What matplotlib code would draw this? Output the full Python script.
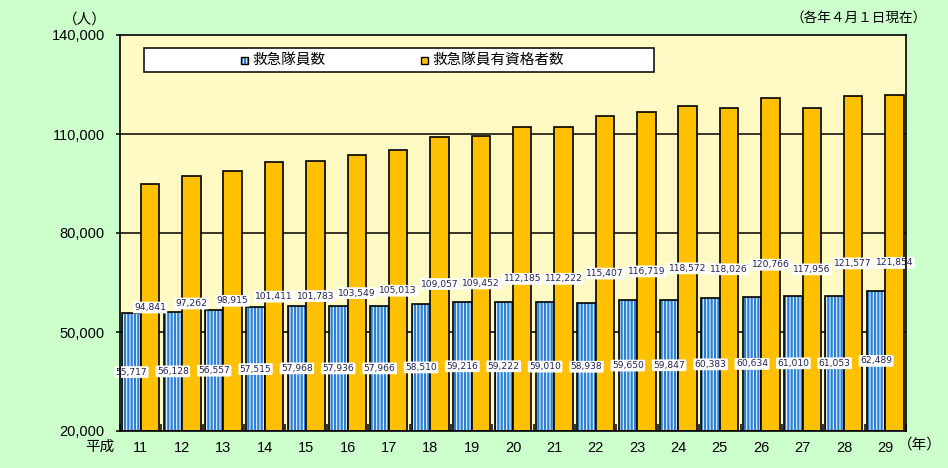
import matplotlib
matplotlib.use("Agg")
import matplotlib.pyplot as plt
from matplotlib.patches import Rectangle
import numpy as np

plt.rcParams['font.family'] = ['Noto Sans CJK JP', 'DejaVu Sans']
plt.rcParams['hatch.linewidth'] = 1.6

years = ['11', '12', '13', '14', '15', '16', '17', '18', '19', '20',
         '21', '22', '23', '24', '25', '26', '27', '28', '29']
members = [55717, 56128, 56557, 57515, 57968, 57936, 57966, 58510, 59216, 59222,
           59010, 58938, 59650, 59847, 60383, 60634, 61010, 61053, 62489]
qualified = [94841, 97262, 98915, 101411, 101783, 103549, 105013, 109057, 109452, 112185,
             112222, 115407, 116719, 118572, 118026, 120766, 117956, 121577, 121854]
series_names = ['救急隊員数', '救急隊員有資格者数']
yticks = [20000, 50000, 80000, 110000, 140000]

BLUE = '#2A80D4'
ORANGE = '#FFC000'
BG = '#CCFFCC'
PLOT_BG = '#FFF9C4'
LABEL_C = '#222255'
base = 20000

fig = plt.figure(figsize=(9.48, 4.68), dpi=100, facecolor=BG)
ax = fig.add_axes([120/948, 1-431/468, (906-120)/948, (431-35)/468])
ax.set_facecolor(PLOT_BG)

x = np.arange(len(years))
w = 0.447
for v in yticks[1:-1]:
    ax.axhline(v, color='black', lw=1.1, zorder=1)

m = np.array(members) - base
q = np.array(qualified) - base
# blue hatched bars
ax.bar(x - w/2, m, w, bottom=base, facecolor='#EAF4FF', edgecolor=BLUE, hatch='|||||', lw=0, zorder=2)
ax.bar(x - w/2, m, w, bottom=base, facecolor='none', edgecolor='black', lw=1.2, zorder=3)
ax.bar(x + w/2, q, w, bottom=base, facecolor=ORANGE, edgecolor='black', lw=1.2, zorder=3)

bb = dict(boxstyle='round,pad=0.15', facecolor='white', edgecolor='none')
for i in range(len(years)):
    ax.text(x[i] - w/2, base + m[i]/2, f'{members[i]:,}', ha='center', va='center',
            fontsize=6.6, color=LABEL_C, bbox=bb, zorder=5, family=['DejaVu Sans'])
    ax.text(x[i] + w/2, base + q[i]/2, f'{qualified[i]:,}', ha='center', va='center',
            fontsize=6.6, color=LABEL_C, bbox=bb, zorder=5, family=['DejaVu Sans'])

ax.set_xlim(-0.5, len(years) - 0.5)
ax.set_ylim(20000, 140000)
ax.set_yticks(yticks)
ax.set_yticklabels([f'{v:,}' for v in yticks], fontsize=10.5, family=['Liberation Sans'])
ax.tick_params(axis='y', direction='out', length=3, width=1.1, pad=8)
ax.set_xticks(x)
ax.set_xticklabels(years, fontsize=10.5, family=['Liberation Sans'])
ax.tick_params(axis='x', which='major', length=0, pad=7)
ax.set_xticks(np.arange(len(years) + 1) - 0.5, minor=True)
ax.tick_params(axis='x', which='minor', direction='in', length=5, width=1.1)
for s in ax.spines.values():
    s.set_linewidth(1.2)
    s.set_zorder(6)

fig.text(100/948, 1-447/468, '平成', fontsize=10.5, ha='center', va='center')
fig.text(920/948, 1-445/468, '（年）', fontsize=10.5, ha='center', va='center')
fig.text(85/948, 1-20/468, '（人）', fontsize=10.5, ha='center', va='center')
fig.text(927/948, 1-18/468, '（各年４月１日現在）', fontsize=9.8, ha='right', va='center')

# legend box
fig.patches.append(Rectangle((144/948, 1-72/468), (654-144)/948, 24/468, transform=fig.transFigure,
                             facecolor='white', edgecolor='black', lw=1.1, zorder=5))
sq = 7
fig.patches.append(Rectangle((241/948, 1-64/468), sq/948, sq/468, transform=fig.transFigure,
                             facecolor='#EAF4FF', edgecolor=BLUE, hatch='|||||', lw=0, zorder=6))
fig.patches.append(Rectangle((241/948, 1-64/468), sq/948, sq/468, transform=fig.transFigure,
                             facecolor='none', edgecolor='black', lw=1, zorder=7))
fig.patches.append(Rectangle((421/948, 1-64/468), sq/948, sq/468, transform=fig.transFigure,
                             facecolor=ORANGE, edgecolor='black', lw=1, zorder=6))
fig.text(252/948, 1-60/468, series_names[0], fontsize=10.5, ha='left', va='center', zorder=8)
fig.text(432/948, 1-60/468, series_names[1], fontsize=10.5, ha='left', va='center', zorder=8)

fig.savefig('out.png', dpi=100, facecolor=BG)
